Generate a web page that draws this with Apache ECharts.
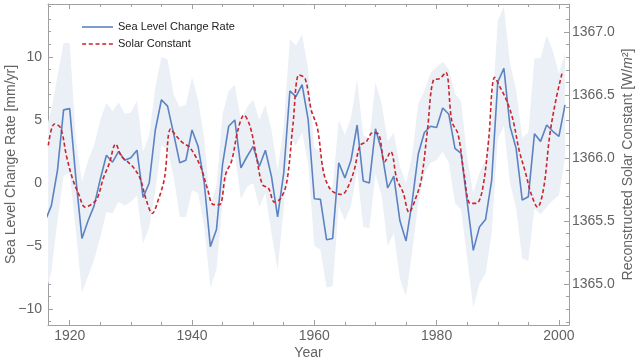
<!DOCTYPE html>
<html>
<head>
<meta charset="utf-8">
<script src="https://cdn.jsdelivr.net/npm/echarts@6/dist/echarts.min.js"></script>
<style>html,body{margin:0;padding:0;background:#fff;}#c{width:640px;height:361px;}</style>
</head>
<body>
<div id="c"></div>
<script>
const years = [1916,1917,1918,1919,1920,1921,1922,1923,1924,1925,1926,1927,1928,1929,1930,1931,1932,1933,1934,1935,1936,1937,1938,1939,1940,1941,1942,1943,1944,1945,1946,1947,1948,1949,1950,1951,1952,1953,1954,1955,1956,1957,1958,1959,1960,1961,1962,1963,1964,1965,1966,1967,1968,1969,1970,1971,1972,1973,1974,1975,1976,1977,1978,1979,1980,1981,1982,1983,1984,1985,1986,1987,1988,1989,1990,1991,1992,1993,1994,1995,1996,1997,1998,1999,2000,2001];
const seaLevelRate = [-3.0,-1.8,1.0,5.8,5.9,0.4,-4.4,-3.0,-1.8,0.3,2.2,1.65,2.5,1.8,2.0,2.6,-1.15,0.0,4.2,6.6,6.1,3.9,1.6,1.8,4.2,2.9,0.0,-5.05,-3.7,1.5,4.5,5.0,1.2,2.1,2.9,1.3,2.6,0.5,-2.7,0.8,7.3,6.85,7.8,5.0,-1.25,-1.3,-4.5,-4.4,1.6,0.4,1.8,4.6,0.16,0.0,4.3,2.6,-0.4,0.55,-3.0,-4.6,-1.5,2.3,4.0,4.5,4.4,5.95,5.45,2.75,2.35,-1.5,-5.35,-3.5,-2.9,0.2,8.0,9.1,4.5,2.75,-1.35,-1.1,3.9,3.3,4.6,4.1,3.7,6.2];
const bandUpper = [4.0,5.8,8.5,11.1,11.1,3.5,0.1,1.8,3.0,5.0,6.35,5.7,6.4,5.5,5.6,6.5,2.5,3.8,7.6,10.0,9.8,7.0,6.0,6.2,8.4,6.6,3.5,-1.8,-0.2,5.5,7.3,7.8,5.0,6.0,6.6,5.0,6.2,4.2,1.0,4.5,11.4,10.9,11.8,9.0,2.8,2.5,-0.3,-0.3,5.0,3.8,5.2,8.2,3.8,3.5,8.0,6.3,3.3,4.0,1.3,0.0,2.2,6.3,7.3,8.7,9.2,9.6,9.0,7.1,6.5,2.0,-0.8,0.8,1.8,5.0,12.9,14.0,9.5,7.4,3.6,4.0,9.9,9.9,11.7,10.5,8.7,10.3];
const bandLower = [-9.0,-7.0,-3.0,0.6,0.8,-3.8,-8.7,-7.4,-6.1,-4.3,-2.3,-2.4,-1.5,-1.8,-1.5,-1.0,-4.8,-3.5,-0.6,3.0,2.6,0.5,-2.7,-2.7,-0.6,-0.8,-3.5,-8.3,-6.9,-1.5,1.5,2.3,-1.3,-0.3,0.0,-1.9,-0.8,-4.0,-6.9,-2.0,3.5,3.0,4.0,1.5,-5.0,-5.3,-8.3,-8.2,-1.8,-3.0,-1.8,1.0,-3.5,-3.6,0.7,-1.0,-5.0,-4.0,-7.6,-9.0,-5.5,-1.6,0.8,1.6,1.8,2.5,1.6,-1.6,-2.1,-6.0,-9.9,-8.0,-7.2,-4.0,3.5,4.5,0.0,-2.0,-6.0,-6.2,-2.0,-2.5,-1.9,-1.4,-1.0,2.0];
const solarYears = [1916.5,1917.5,1918.5,1919.5,1920.5,1921.5,1922.5,1923.5,1924.5,1925.5,1926.5,1927.5,1928.5,1929.5,1930.5,1931.5,1932.5,1933.5,1934.5,1935.5,1936.5,1937.5,1938.5,1939.5,1940.5,1941.5,1942.5,1943.5,1944.5,1945.5,1946.5,1947.5,1948.5,1949.5,1950.5,1951.5,1952.5,1953.5,1954.5,1955.5,1956.5,1957.5,1958.5,1959.5,1960.5,1961.5,1962.5,1963.5,1964.5,1965.5,1966.5,1967.5,1968.5,1969.5,1970.5,1971.5,1972.5,1973.5,1974.5,1975.5,1976.5,1977.5,1978.5,1979.5,1980.5,1981.5,1982.5,1983.5,1984.5,1985.5,1986.5,1987.5,1988.5,1989.5,1990.5,1991.5,1992.5,1993.5,1994.5,1995.5,1996.5,1997.5,1998.5,1999.5,2000.5];
const solarConstant = [1366.10,1366.27,1366.24,1366.01,1365.83,1365.71,1365.61,1365.63,1365.68,1365.84,1365.96,1366.11,1366.01,1365.97,1365.92,1365.84,1365.67,1365.56,1365.67,1365.84,1366.23,1366.17,1366.12,1366.09,1366.02,1365.92,1365.76,1365.63,1365.63,1365.87,1365.98,1366.22,1366.34,1366.25,1366.02,1365.79,1365.76,1365.65,1365.68,1365.81,1366.26,1366.66,1366.63,1366.38,1366.24,1365.89,1365.76,1365.72,1365.71,1365.77,1365.90,1366.10,1366.13,1366.20,1366.19,1365.97,1366.05,1365.83,1365.73,1365.57,1365.67,1365.83,1366.22,1366.62,1366.63,1366.68,1366.29,1366.19,1365.87,1365.64,1365.64,1365.75,1366.14,1366.64,1366.55,1366.45,1366.30,1366.06,1365.89,1365.71,1365.61,1365.76,1366.18,1366.46,1366.67];
const xMajorTicks = [1920,1940,1960,1980,2000];
const xMinorTicks = [1920,1925,1930,1935,1940,1945,1950,1955,1960,1965,1970,1975,1980,1985,1990,1995,2000];
const leftMajorTicks = [-10,-5,0,5,10];
const leftMinorTicks = [-11,-10,-9,-8,-7,-6,-5,-4,-3,-2,-1,0,1,2,3,4,5,6,7,8,9,10,11,12,13,14];
const rightMajorTicks = [1365,1365.5,1366,1366.5,1367];
const rightMinorTicks = [1364.7,1364.8,1364.9,1365,1365.1,1365.2,1365.3,1365.4,1365.5,1365.6,1365.7,1365.8,1365.9,1366,1366.1,1366.2,1366.3,1366.4,1366.5,1366.6,1366.7,1366.8,1366.9,1367,1367.1,1367.2];

const FRAME = '#a0a0a0';
const LABEL = '#636363';
const FONT = 'Liberation Sans, Arial, sans-serif';
const X_MIN = 1916.45, X_MAX = 2001.65;
const L_MIN = -11.27, L_MAX = 14.2;
const R_MIN = 1364.675, R_MAX = 1367.222;
const BLUE = '#5b83c2', RED = '#c9252c', BAND = '#ebeff6';

function xAx(pos, ticks, len, showLine, showLabel) {
  return {
    type: 'value', position: pos, min: X_MIN, max: X_MAX,
    axisLine: { show: showLine, onZero: false, lineStyle: { color: FRAME, width: 1 } },
    axisTick: { show: true, inside: true, length: len, customValues: ticks, lineStyle: { color: FRAME, width: 1 } },
    axisLabel: { show: showLabel, customValues: ticks, margin: 4, color: LABEL, fontSize: 14, fontFamily: FONT, formatter: v => String(v) },
    splitLine: { show: false }
  };
}
function yAx(pos, min, max, ticks, len, showLine, showLabel, fmt, margin) {
  return {
    type: 'value', position: pos, min: min, max: max,
    axisLine: { show: showLine, onZero: false, lineStyle: { color: FRAME, width: 1 } },
    axisTick: { show: true, inside: true, length: len, customValues: ticks, lineStyle: { color: FRAME, width: 1 } },
    axisLabel: { show: showLabel, customValues: ticks, margin: margin, color: LABEL, fontSize: 14, fontFamily: FONT, formatter: fmt },
    splitLine: { show: false }
  };
}

const xAxes = [
  xAx('bottom', xMajorTicks, 5, true, true),
  xAx('bottom', xMinorTicks, 3, false, false),
  xAx('top', xMajorTicks, 5, true, false),
  xAx('top', xMinorTicks, 3, false, false)
];
xAxes[0].name = 'Year';
xAxes[0].nameLocation = 'middle';
xAxes[0].nameGap = 21;
xAxes[0].nameMoveOverlap = false;
xAxes[0].nameTextStyle = { color: LABEL, fontSize: 14, fontFamily: FONT };

const yAxes = [
  yAx('left', L_MIN, L_MAX, leftMajorTicks, 5, true, true, v => (v < 0 ? '\u2212' + Math.abs(v) : String(v)), 6),
  yAx('left', L_MIN, L_MAX, leftMinorTicks, 3, false, false, null, 6),
  yAx('right', R_MIN, R_MAX, rightMajorTicks, 5, true, true, v => v.toFixed(1), 3),
  yAx('right', R_MIN, R_MAX, rightMinorTicks, 3, false, false, null, 3)
];
yAxes[0].name = 'Sea Level Change Rate [mm/yr]';
yAxes[0].nameLocation = 'middle';
yAxes[0].nameGap = 30;
yAxes[0].nameMoveOverlap = false;
yAxes[0].nameTextStyle = { color: LABEL, fontSize: 14, fontFamily: FONT };
yAxes[2].name = 'Reconstructed Solar Constant [W/{i|m}\u00B2]';
yAxes[2].nameLocation = 'middle';
yAxes[2].nameGap = 52;
yAxes[2].nameMoveOverlap = false;
yAxes[2].nameTextStyle = { color: LABEL, fontSize: 14, fontFamily: FONT, rich: { i: { fontStyle: 'italic', color: LABEL, fontSize: 14, fontFamily: FONT } } };

const bandRows = years.map((y, i) => [y, bandLower[i], bandUpper[i]]);
const seaData = years.map((y, i) => [y, seaLevelRate[i]]);
const solarData = solarYears.map((y, i) => [y, solarConstant[i]]);

function renderBand(params, api) {
  if (params.dataIndex !== 0) return null;
  const pts = [];
  for (let i = 0; i < bandRows.length; i++) pts.push(api.coord([bandRows[i][0], bandRows[i][2]]));
  for (let i = bandRows.length - 1; i >= 0; i--) pts.push(api.coord([bandRows[i][0], bandRows[i][1]]));
  const cs = params.coordSys;
  return {
    type: 'polygon',
    shape: { points: pts },
    style: { fill: BAND, stroke: null },
    clipPath: { type: 'rect', shape: { x: cs.x, y: cs.y, width: cs.width, height: cs.height } }
  };
}

const SOLID_ICON = 'path://M0,0h31v1.6h-31z';
const DASH_ICON = 'path://M0,0h4v1.6h-4zM6.7,0h4v1.6h-4zM13.4,0h4v1.6h-4zM20.1,0h4v1.6h-4zM26.8,0h4v1.6h-4z';

const chart = echarts.init(document.getElementById('c'), null, { renderer: 'canvas' });
chart.setOption({
  animation: false,
  backgroundColor: '#ffffff',
  grid: { left: 48, right: 71, top: 4, bottom: 36, containLabel: false, outerBoundsMode: 'none' },
  legend: {
    data: [
      { name: 'Sea Level Change Rate', icon: SOLID_ICON },
      { name: 'Solar Constant', icon: DASH_ICON }
    ],
    orient: 'vertical', left: 82, top: 20, padding: 0,
    itemWidth: 31, itemHeight: 1.6, itemGap: 3,
    textStyle: { color: '#222', fontSize: 11, fontFamily: FONT, lineHeight: 14 }
  },
  xAxis: xAxes,
  yAxis: yAxes,
  series: [
    { name: 'band', type: 'custom', renderItem: renderBand, data: bandRows,
      encode: { x: 0, y: [1, 2] }, silent: true, z: 1, clip: true },
    { name: 'Sea Level Change Rate', type: 'line', data: seaData, symbol: 'none', showSymbol: false,
      lineStyle: { color: BLUE, width: 1.6 }, itemStyle: { color: BLUE }, z: 3 },
    { name: 'Solar Constant', type: 'line', yAxisIndex: 2, data: solarData, symbol: 'none', showSymbol: false, smooth: 0.35,
      lineStyle: { color: RED, width: 1.6, type: [4, 2.5] }, itemStyle: { color: RED }, z: 4 }
  ]
});
</script>
</body>
</html>
